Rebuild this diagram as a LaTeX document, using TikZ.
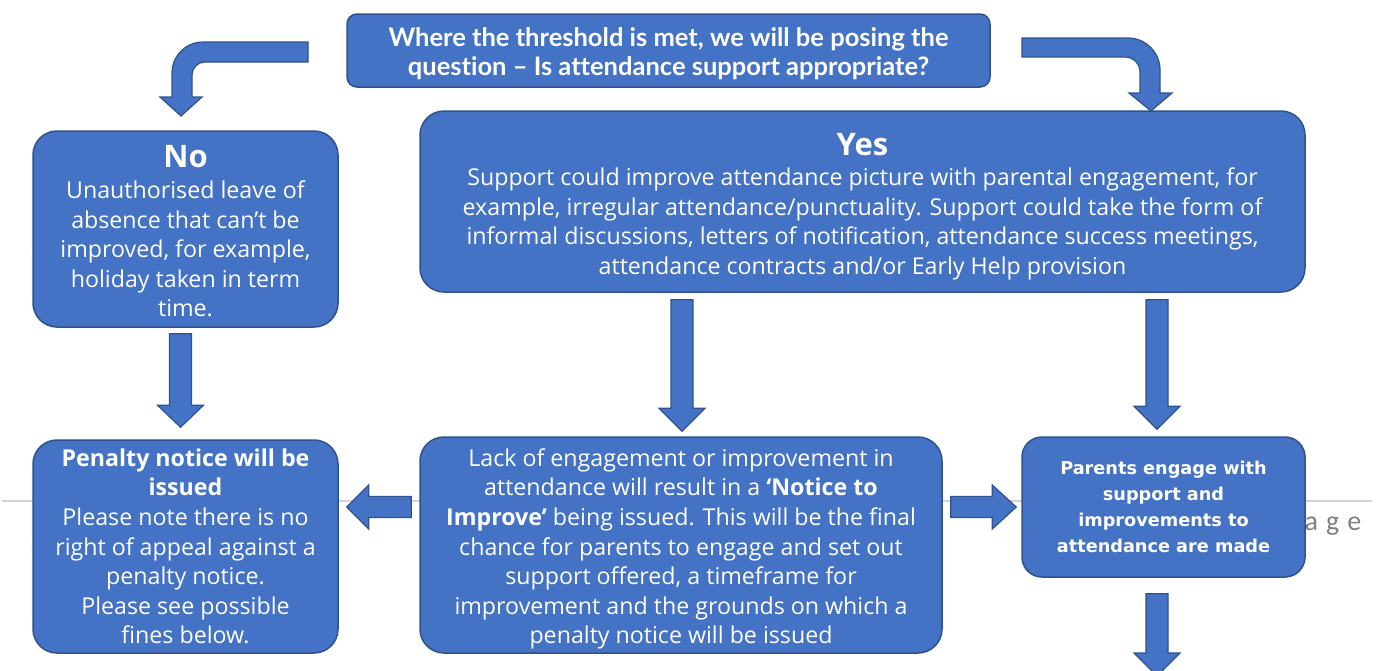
\documentclass[tikz,border=0pt]{standalone}
\usepackage{fontspec}
\setmainfont{Open Sans}
\newfontfamily\titlefont{Lato}[Ligatures=NoCommon]
\newfontfamily\dejafont{DejaVu Sans}
\newfontfamily\pagefont{Carlito}
\usetikzlibrary{calc}
\definecolor{boxfill}{RGB}{68,114,196}
\definecolor{boxline}{RGB}{47,82,143}
\definecolor{pagegray}{RGB}{128,128,128}
\definecolor{rulegray}{RGB}{212,212,212}
\tikzset{
  flowbox/.style={draw=boxline, fill=boxfill, line width=1.5pt, rounded corners=24pt, inner sep=0pt},
  boxtext/.style={text=white, align=center, inner sep=0pt, font=\fontsize{23.2}{29.6}\selectfont},
  barrow/.style={draw=boxline, fill=boxfill, line width=1.2pt, line join=miter},
}
\newcommand\vblk[3]{\draw[barrow] ($(#1)+(-11,0)$) -- ($(#1)+(11,0)$) -- ($(#2)+(11,#3)$) -- ($(#2)+(23,#3)$) -- (#2) -- ($(#2)+(-23,#3)$) -- ($(#2)+(-11,#3)$) -- cycle;}
\newcommand\hblk[3]{\draw[barrow] ($(#1)+(0,-10.5)$) -- ($(#1)+(0,10.5)$) -- ($(#2)+(#3,10.5)$) -- ($(#2)+(#3,22)$) -- (#2) -- ($(#2)+(#3,-22)$) -- ($(#2)+(#3,-10.5)$) -- cycle;}
\newcommand\headline[1]{{\bfseries\fontsize{31}{32}\selectfont #1}}
\begin{document}
\begin{tikzpicture}[x=1pt,y=-1pt]
\useasboundingbox (0,0) rectangle (1378,670);
\clip (0,0) rectangle (1378,670);
\fill[white] (0,0) rectangle (1378,670);
% page footer remnants
\draw[rulegray, line width=1.5pt] (2,501) -- (1372,501);
\node[anchor=base west, inner sep=0pt, text=pagegray, font=\pagefont\fontsize{28}{30}\selectfont] (pg) at (1282,530) {P\hspace{8pt}a\hspace{8pt}g\hspace{8pt}e};
% boxes
\node[flowbox, minimum width=643pt, minimum height=73pt, rounded corners=10pt] (top) at (668.5,50.5) {};
\node[boxtext, font=\titlefont\bfseries\fontsize{25.5}{29.5}\selectfont] (topT) at ($(top.center)+(0,3)$)
  {Where the threshold is met, we will be posing the\\question – Is attendance support appropriate?};
\node[flowbox, minimum width=305pt, minimum height=196pt] (no) at (185.5,229) {};
\node[boxtext] (noT) at ($(no.center)+(0,2.5)$)
  {\headline{No}\\[1pt]Unauthorised leave of\\absence that can’t be\\improved, for example,\\holiday taken in term\\time.};
\node[flowbox, minimum width=885pt, minimum height=181pt] (yes) at (862.5,201.5) {};
\node[boxtext] (yesT) at ($(yes.center)+(0,5)$)
  {\headline{Yes}\\[1pt]Support could improve attendance picture with parental engagement, for\\example, irregular attendance/punctuality. Support could take the form of\\informal discussions, letters of notification, attendance success meetings,\\attendance contracts and/or Early Help provision};
\node[flowbox, minimum width=305pt, minimum height=213pt] (pen) at (185.5,546.5) {};
\node[boxtext] (penT) at ($(pen.center)+(0,0)$)
  {\textbf{Penalty notice will be}\\\textbf{issued}\\Please note there is no\\right of appeal against a\\penalty notice.\\Please see possible\\fines below.};
\node[flowbox, minimum width=522pt, minimum height=216pt] (mid) at (681,545) {};
\node[boxtext] (midT) at ($(mid.center)+(0,4)$)
  {Lack of engagement or improvement in\\attendance will result in a \textbf{‘Notice to}\\\textbf{Improve’} being issued. This will be the final\\chance for parents to engage and set out\\support offered, a timeframe for\\improvement and the grounds on which a\\penalty notice will be issued};
\node[flowbox, minimum width=283pt, minimum height=140pt, rounded corners=20pt] (par) at (1163.5,507) {};
\node[boxtext, font=\dejafont\bfseries\fontsize{17.7}{26}\selectfont] (parT) at (par.center)
  {Parents engage with\\support and\\improvements to\\attendance are made};
% curved arrows from the question
\draw[barrow] (308,42) -- (203,42) arc[start angle=270, end angle=180, radius=31] -- (172,97) -- (160,97) -- (181,116) -- (202,97) -- (192,97) -- (192,75) arc[start angle=180, end angle=270, radius=13] -- (308,62) -- cycle;
\draw[barrow] (1022,38) -- (1128,38) arc[start angle=270, end angle=360, radius=32] -- (1160,93) -- (1172,93) -- (1151,111) -- (1129,93) -- (1140,93) -- (1140,72) arc[start angle=0, end angle=-90, radius=15] -- (1022,57) -- cycle;
% straight block arrows
\coordinate (a1s) at ($(no.south -| 180.5,0)+(0,6)$);
\coordinate (a1e) at ($(pen.north -| 180.5,0)+(0,-12)$);
\vblk{a1s}{a1e}{-22}
\coordinate (a2s) at ($(yes.south -| 682,0)+(0,7)$);
\coordinate (a2e) at ($(mid.north -| 682,0)+(0,-5)$);
\vblk{a2s}{a2e}{-23}
\coordinate (a3s) at ($(yes.south -| 1157,0)+(0,7)$);
\coordinate (a3e) at ($(par.north -| 1157,0)+(0,-7)$);
\vblk{a3s}{a3e}{-23}
\coordinate (a4s) at ($(mid.west |- 0,507)+(-8,0)$);
\coordinate (a4e) at ($(pen.east |- 0,507)+(8,0)$);
\hblk{a4s}{a4e}{22}
\coordinate (a5s) at ($(mid.east |- 0,507)+(8,0)$);
\coordinate (a5e) at ($(par.west |- 0,507)+(-5,0)$);
\hblk{a5s}{a5e}{-24}
\coordinate (a6s) at ($(par.south -| 1157,0)+(0,16)$);
\coordinate (a6e) at (1157,676);
\vblk{a6s}{a6e}{-23}
\end{tikzpicture}
\end{document}
